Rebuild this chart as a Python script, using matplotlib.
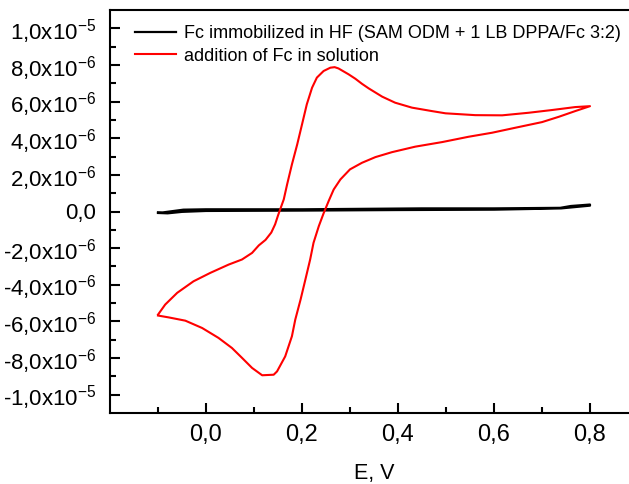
import matplotlib
matplotlib.use('Agg')
import matplotlib.pyplot as plt
import numpy as np

plt.rcParams['font.family'] = ['Liberation Sans', 'DejaVu Sans']
plt.rcParams['mathtext.fontset'] = 'custom'
plt.rcParams['mathtext.rm'] = 'Liberation Sans'
plt.rcParams['mathtext.it'] = 'Liberation Sans:italic'
plt.rcParams['mathtext.bf'] = 'Liberation Sans:bold'

# red CV loop: left vertex -> anodic peak -> right vertex -> cathodic peak -> back
red_E = [-0.100, -0.085, -0.060, -0.026, 0.009, 0.047, 0.075, 0.096, 0.110, 0.124,
         0.136, 0.144, 0.150, 0.155, 0.162, 0.169, 0.179, 0.190, 0.200, 0.210, 0.221,
         0.231, 0.245, 0.259, 0.268, 0.276, 0.297, 0.311, 0.325, 0.339, 0.367,
         0.394, 0.429, 0.471, 0.499, 0.561, 0.617, 0.672, 0.721, 0.769, 0.800,
         0.769, 0.735, 0.700, 0.644, 0.596, 0.547, 0.492, 0.436, 0.3875, 0.353,
         0.325, 0.300, 0.280, 0.266, 0.256, 0.245, 0.235, 0.224, 0.217, 0.207,
         0.197, 0.186, 0.179, 0.165, 0.148, 0.141, 0.117, 0.096, 0.075, 0.054,
         0.026, -0.008, -0.043, -0.078, -0.100]
red_I = [-5.63, -5.08, -4.44, -3.81, -3.35, -2.90, -2.62, -2.26, -1.85, -1.55,
         -1.15, -0.70, -0.22, 0.15, 0.66, 1.48, 2.57, 3.66, 4.75, 5.85, 6.76,
         7.31, 7.67, 7.85, 7.88, 7.81, 7.49, 7.25, 6.97, 6.72, 6.27,
         5.94, 5.67, 5.48, 5.36, 5.26, 5.25, 5.39, 5.54, 5.70, 5.75,
         5.48, 5.17, 4.88, 4.57, 4.30, 4.08, 3.79, 3.54, 3.24, 2.97,
         2.66, 2.30, 1.75, 1.20, 0.60, -0.10, -0.80, -1.71, -2.62, -3.72,
         -4.81, -5.90, -6.81, -7.91, -8.73, -8.91, -8.94, -8.54, -7.99, -7.45,
         -6.90, -6.36, -5.96, -5.78, -5.68]

# black: immobilized Fc, almost flat
black_E = [-0.100, -0.090, -0.047, 0.000, 0.200, 0.350, 0.450, 0.600, 0.738, 0.760, 0.800,
           0.800, 0.740, 0.600, 0.400, 0.200, 0.000, -0.050, -0.080, -0.100]
black_I = [-0.05, -0.05, 0.10, 0.12, 0.12, 0.15, 0.17, 0.17, 0.20, 0.30, 0.38,
           0.32, 0.17, 0.10, 0.08, 0.05, 0.03, -0.02, -0.10, -0.08]

labels = ['Fc immobilized in HF (SAM ODM + 1 LB DPPA/Fc 3:2)',
          'addition of Fc in solution']

yticks = np.arange(-10, 11, 2) * 1e-6
ytick_labels = ['-1,0x10$^{\\mathregular{-5}}$', '-8,0x10$^{\\mathregular{-6}}$',
                '-6,0x10$^{\\mathregular{-6}}$', '-4,0x10$^{\\mathregular{-6}}$',
                '-2,0x10$^{\\mathregular{-6}}$', '0,0',
                '2,0x10$^{\\mathregular{-6}}$', '4,0x10$^{\\mathregular{-6}}$',
                '6,0x10$^{\\mathregular{-6}}$', '8,0x10$^{\\mathregular{-6}}$',
                '1,0x10$^{\\mathregular{-5}}$']
xticks = [0.0, 0.2, 0.4, 0.6, 0.8]
xtick_labels = ['0,0', '0,2', '0,4', '0,6', '0,8']

fig = plt.figure(figsize=(6.29, 4.84), dpi=100)
ax = fig.add_axes([110/629, 71/484, 528/629, 403/484])

ax.plot(black_E, np.array(black_I) * 1e-6, color='black', lw=1.6, label=labels[0])
ax.plot(red_E, np.array(red_I) * 1e-6, color='#ff0000', lw=1.5, label=labels[1])

ax.set_xlim(-0.2, 0.9)
ax.set_ylim(-1.1e-5, 1.1e-5)
ax.set_xticks(xticks)
ax.set_xticklabels(xtick_labels)
ax.set_xticks(np.arange(-0.1, 0.95, 0.2), minor=True)
ax.set_yticks(yticks)
ax.set_yticklabels(ytick_labels)
ax.set_yticks(np.arange(-9, 10, 2) * 1e-6, minor=True)

ax.tick_params(which='both', direction='in', width=1.5)
ax.tick_params(which='major', length=7)
ax.tick_params(which='minor', length=4)
ax.tick_params(axis='y', pad=10, labelsize=16)
ax.tick_params(axis='x', pad=8, labelsize=17)
for s in ax.spines.values():
    s.set_linewidth(1.5)

ax.set_xlabel('E, V', fontsize=15.5, labelpad=12)

ax.legend(loc='upper left', bbox_to_anchor=(0.047, 0.962), frameon=False,
          fontsize=13, handlelength=2.3, handletextpad=0.45, labelspacing=0.3,
          borderpad=0, borderaxespad=0)

fig.savefig('out.png', dpi=100)
